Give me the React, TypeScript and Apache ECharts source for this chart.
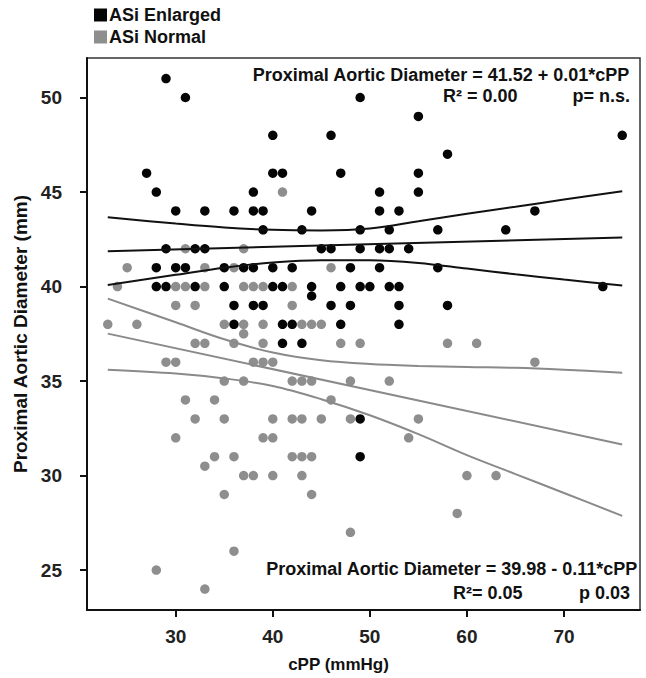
import React, { useEffect, useRef } from "react";
import * as echarts from "echarts";

// ASi Enlarged: [cPP, diameter]
const enlarged: [number, number][] = [
  [29, 51], [31, 50], [49, 50], [55, 49], [40, 48], [46, 48], [76, 48], [58, 47],
  [27, 46], [40, 46], [41, 46], [47, 46], [55, 46],
  [28, 45], [38, 45], [51, 45], [55, 45],
  [30, 44], [33, 44], [36, 44], [38, 44], [39, 44], [44, 44], [51, 44], [53, 44], [67, 44],
  [39, 43], [43, 43], [49, 43], [52, 43], [57, 43], [64, 43],
  [29, 42], [32, 42], [33, 42], [45, 42], [46, 42], [49, 42], [51, 42], [52, 42], [54, 42],
  [28, 41], [30, 41], [31, 41], [35, 41], [37, 41], [38, 41], [40, 41], [42, 41], [48, 41], [51, 41], [57, 41],
  [28, 40], [29, 40], [32, 40], [35, 40], [40, 40], [41, 40], [44, 40], [47, 40], [49, 40], [50, 40], [52, 40], [53, 40], [74, 40],
  [44, 39.5],
  [36, 39], [38, 39], [39, 39], [46, 39], [48, 39], [53, 39], [58, 39],
  [36, 38], [41, 38], [42, 38], [47, 38], [53, 38],
  [41, 37], [43, 37],
  [49, 33], [49, 31],
];

// ASi Normal: [cPP, diameter]
const normal: [number, number][] = [
  [41, 45],
  [31, 42], [37, 42],
  [25, 41], [33, 41], [36, 41], [46, 41],
  [24, 40], [30, 40], [31, 40], [33, 40], [37, 40], [38, 40], [39, 40], [42, 40],
  [30, 39], [32, 39], [42, 39],
  [23, 38], [26, 38], [35, 38], [37, 38], [39, 38], [43, 38], [44, 38], [45, 38],
  [37, 37.5],
  [32, 37], [33, 37], [36, 37], [39, 37], [47, 37], [49, 37], [58, 37], [61, 37],
  [29, 36], [30, 36], [38, 36], [39, 36], [40, 36], [67, 36],
  [35, 35], [37, 35], [42, 35], [43, 35], [44, 35], [48, 35], [52, 35],
  [31, 34], [34, 34], [46, 34],
  [32, 33], [35, 33], [40, 33], [42, 33], [43, 33], [45, 33], [48, 33], [55, 33],
  [30, 32], [39, 32], [40, 32], [54, 32],
  [34, 31], [36, 31], [42, 31], [43, 31], [44, 31],
  [33, 30.5],
  [37, 30], [38, 30], [40, 30], [43, 30], [60, 30], [63, 30],
  [35, 29], [44, 29],
  [59, 28], [48, 27], [36, 26], [28, 25], [33, 24],
];

// regression lines and 95% bands
const fitX = [23, 76];
const enlargedFit = [41.87, 42.59];
const normalFit = [37.51, 31.65];
const ciX = [23, 30, 35, 40, 45, 50, 55, 60, 65, 70, 76];
const enlargedUpper = [43.67, 43.33, 43.12, 43.0, 42.97, 43.07, 43.45, 43.85, 44.22, 44.6, 45.04];
const enlargedLower = [40.08, 40.62, 41.0, 41.27, 41.39, 41.39, 41.25, 40.95, 40.65, 40.37, 40.06];
const normalUpper = [39.36, 38.11, 37.21, 36.51, 36.1, 35.9, 35.8, 35.74, 35.7, 35.6, 35.44];
const normalLower = [35.6, 35.4, 35.14, 34.74, 34.04, 33.19, 32.19, 31.08, 30.08, 29.08, 27.87];

const xTicks = [30, 40, 50, 60, 70];
const yTicks = [25, 30, 35, 40, 45, 50];

const FONT = "'Liberation Sans', Arial, sans-serif";
const BLACK = "#050505";
const GRAY = "#8e8e8e";

const zip = (xs: number[], ys: number[]) => xs.map((x, i) => [x, ys[i]]);

const lineSeries = (data: number[][], color: string, smooth: boolean) => ({
  type: "line",
  data,
  showSymbol: false,
  symbol: "none",
  smooth: smooth ? 0.35 : false,
  lineStyle: { color, width: 2 },
  silent: true,
  z: 3,
});

export default function App() {
  const ref = useRef<HTMLDivElement>(null);
  useEffect(() => {
    if (!ref.current) return;
    const chart = echarts.init(ref.current, undefined, { renderer: "svg" });
    const textStyle = { fontFamily: FONT, fontWeight: "bold", fontSize: 18, fill: "#111" };
    chart.setOption({
      animation: false,
      backgroundColor: "#ffffff",
      textStyle: { fontFamily: FONT },
      legend: {
        data: ["ASi Enlarged", "ASi Normal"],
        orient: "vertical",
        left: 89,
        top: 1,
        icon: "rect",
        itemWidth: 13,
        itemHeight: 13,
        itemGap: 4,
        textStyle: { fontFamily: FONT, fontWeight: "bold", fontSize: 18, color: "#111", padding: [0, 0, 0, -3] },
      },
      grid: {
        left: 87,
        right: 6,
        top: 58,
        bottom: 65,
        show: true,
        borderColor: "#333",
        borderWidth: 1.5,
      },
      xAxis: {
        type: "value",
        min: 20.86,
        max: 77.83,
        name: "cPP (mmHg)",
        nameLocation: "middle",
        nameGap: 46,
        nameTextStyle: { fontFamily: FONT, fontWeight: "bold", fontSize: 17, color: "#111", padding: [0, 50, 0, 0] },
        axisLine: { lineStyle: { color: "#111", width: 2 } },
        axisTick: { show: true, length: 7, lineStyle: { color: "#111", width: 2 }, customValues: xTicks },
        axisLabel: { customValues: xTicks, margin: 17, fontFamily: FONT, fontWeight: "bold", fontSize: 19, color: "#222" },
        splitLine: { show: false },
      },
      yAxis: {
        type: "value",
        min: 22.89,
        max: 52.09,
        name: "Proximal Aortic Diameter (mm)",
        nameLocation: "middle",
        nameGap: 57,
        nameTextStyle: { fontFamily: FONT, fontWeight: "bold", fontSize: 19, color: "#111" },
        axisLine: { lineStyle: { color: "#111", width: 2 } },
        axisTick: { show: true, length: 7, lineStyle: { color: "#111", width: 2 }, customValues: yTicks },
        axisLabel: { customValues: yTicks, margin: 25, fontFamily: FONT, fontWeight: "bold", fontSize: 19, color: "#222" },
        splitLine: { show: false },
      },
      series: [
        {
          name: "ASi Enlarged",
          type: "scatter",
          data: enlarged,
          symbolSize: 9.5,
          itemStyle: { color: BLACK, opacity: 1 },
          z: 2,
        },
        {
          name: "ASi Normal",
          type: "scatter",
          data: normal,
          symbolSize: 9.5,
          itemStyle: { color: GRAY, opacity: 1 },
          z: 2,
        },
        lineSeries(zip(fitX, enlargedFit), "#111", false),
        lineSeries(zip(ciX, enlargedUpper), "#111", true),
        lineSeries(zip(ciX, enlargedLower), "#111", true),
        lineSeries(zip(fitX, normalFit), "#8a8a8a", false),
        lineSeries(zip(ciX, normalUpper), "#8a8a8a", true),
        lineSeries(zip(ciX, normalLower), "#8a8a8a", true),
      ],
      graphic: [
        { type: "text", right: 16, top: 66, style: { ...textStyle, text: "Proximal Aortic Diameter = 41.52 + 0.01*cPP" } },
        { type: "text", left: 443, top: 87, style: { ...textStyle, text: "R² = 0.00" } },
        { type: "text", right: 16, top: 87, style: { ...textStyle, text: "p= n.s." } },
        { type: "text", right: 8, top: 560, style: { ...textStyle, text: "Proximal Aortic Diameter = 39.98 - 0.11*cPP" } },
        { type: "text", left: 453, top: 584, style: { ...textStyle, text: "R²= 0.05" } },
        { type: "text", right: 16, top: 584, style: { ...textStyle, text: "p 0.03" } },
      ],
    });
    return () => chart.dispose();
  }, []);
  return (
    <div
      ref={ref}
      style={{ position: "absolute", left: 0, top: 0, width: 646, height: 678, background: "#fff" }}
    />
  );
}
